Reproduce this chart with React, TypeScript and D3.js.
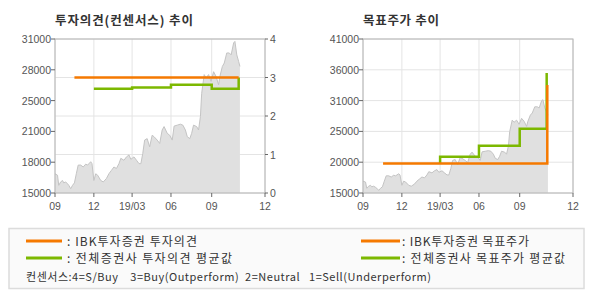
import React from 'react';
import * as d3 from 'd3';

// ---- data ----
// trading-day index of the x axis and its month labels
const xTickPos = [0, 62, 123, 185, 250, 335];
const xTickLabels = ['09', '12', '19/03', '06', '09', '12'];

// share price (trading-day index, value)
const priceDay = [0, 4, 6, 9, 12, 14, 17, 20, 22, 25, 28, 31, 34, 37, 41, 45, 49, 52, 57, 59, 62, 65, 68, 73, 77, 82, 86, 90, 94, 98, 102, 105, 110, 114, 118, 121, 126, 130, 134, 137, 140, 143, 147, 151, 155, 158, 163, 167, 171, 174, 179, 183, 187, 190, 195, 200, 204, 208, 211, 215, 218, 221, 226, 229, 232, 234, 238, 241, 245, 249, 253, 257, 261, 263, 267, 270, 274, 278, 281, 285, 287, 290, 293, 295];
const priceVal = [17000, 16850, 15800, 16150, 16300, 16050, 16150, 15950, 15800, 15450, 15800, 16050, 17000, 17900, 17900, 17700, 18000, 17900, 18250, 18050, 16300, 17000, 16850, 16300, 16150, 16500, 17000, 17350, 17700, 17550, 18050, 18600, 18400, 18750, 18950, 18500, 18750, 18400, 18050, 18050, 19100, 20500, 20650, 19800, 21000, 20850, 20500, 20150, 21550, 21900, 21200, 21000, 20500, 21950, 22050, 22150, 22050, 21550, 20850, 20650, 21200, 22050, 21900, 21550, 22950, 25350, 27300, 26950, 27300, 26600, 27600, 27100, 26250, 27100, 28150, 28500, 29550, 29550, 29350, 30600, 30750, 29350, 28650, 28150];

// investment opinion (0-4)
const ibkOpinionDay = [31, 293];
const ibkOpinionVal = [3, 3];
const avgOpinionDay = [62, 123, 185, 250, 293, 293];
const avgOpinionVal = [2.71, 2.74, 2.81, 2.71, 2.71, 3.0];

// target price
const ibkTargetDay = [32, 294, 294];
const ibkTargetVal = [20000, 20000, 33250];
const avgTargetDay = [123, 123, 185, 250, 293, 293];
const avgTargetVal = [20000, 21100, 22970, 25850, 25850, 35250];

// axis ticks
const leftPriceTicks = [15000, 18200, 21400, 24600, 27800, 31000];
const leftPriceLabels = ['15000', '18000', '21000', '25000', '28000', '31000'];
const opinionTicks = [0, 1, 2, 3, 4];
const rightPriceTicks = [15000, 20200, 25400, 30600, 35800, 41000];
const rightPriceLabels = ['15000', '20000', '25000', '31000', '36000', '41000'];

const ORANGE = '#f57900';
const GREEN = '#7cb800';
const AXIS_FONT = '"Liberation Sans", Arial, sans-serif';
const KR_FONT = '"Noto Sans CJK KR", "Noto Sans", sans-serif';

type Pt = [number, number];
const zip = (a: number[], b: number[]): Pt[] => a.map((d, i) => [d, b[i]] as Pt);

function Panel(props: {
  x0: number; x1: number; y0: number; y1: number;
  title: string; titleLen: number;
  priceDomain: [number, number];
  priceTicks: number[]; priceLabels: string[];
  rightAxis: boolean;
  gridTicks: 'right' | 'left';
  children: (x: d3.ScaleLinear<number, number>, yL: d3.ScaleLinear<number, number>, yR: d3.ScaleLinear<number, number>) => React.ReactNode;
}) {
  const { x0, x1, y0, y1 } = props;
  const x = d3.scaleLinear().domain([0, 335]).range([x0, x1]);
  const yL = d3.scaleLinear().domain(props.priceDomain).range([y1, y0]);
  const yR = d3.scaleLinear().domain([0, 4]).range([y1, y0]);
  const pts = zip(priceDay, priceVal);
  const area = d3.area<Pt>().x(d => x(d[0])).y0(y1).y1(d => yL(d[1]))(pts) || '';
  const line = d3.line<Pt>().x(d => x(d[0])).y(d => yL(d[1]))(pts) || '';
  const hGrid = props.gridTicks === 'right' ? opinionTicks.map(t => yR(t)) : props.priceTicks.map(t => yL(t));
  return (
    <g>
      <text x={x0} y={25} fontFamily={KR_FONT} fontWeight="bold" fontSize={12.5} fill="#333" textLength={props.titleLen} lengthAdjust="spacing">{props.title}</text>
      {hGrid.map((y, i) => <line key={'h' + i} x1={x0} x2={x1} y1={y} y2={y} stroke="#e4e4e4" strokeWidth={1} />)}
      {xTickPos.map((t, i) => <line key={'v' + i} x1={x(t)} x2={x(t)} y1={y0} y2={y1} stroke="#e4e4e4" strokeWidth={1} />)}
      <path d={area} fill="#e0e0e0" />
      <path d={line} fill="none" stroke="#c4c4c4" strokeWidth={1} />
      {props.children(x, yL, yR)}
      <rect x={x0} y={y0} width={x1 - x0} height={y1 - y0} fill="none" stroke="#b4b4b4" strokeWidth={1} />
      {props.priceTicks.map((t, i) => (
        <g key={'l' + i}>
          <line x1={x0 - 4} x2={x0} y1={yL(t)} y2={yL(t)} stroke="#666" />
          <text x={x0 - 4} y={yL(t) + 4} textAnchor="end" fontFamily={AXIS_FONT} fontSize={10.5} fill="#555">{props.priceLabels[i]}</text>
        </g>
      ))}
      {props.rightAxis && opinionTicks.map((t, i) => (
        <g key={'r' + i}>
          <line x1={x1} x2={x1 + 3} y1={yR(t)} y2={yR(t)} stroke="#666" />
          <text x={x1 + 5} y={yR(t) + 4} textAnchor="start" fontFamily={AXIS_FONT} fontSize={10.5} fill="#555">{String(t)}</text>
        </g>
      ))}
      {xTickPos.map((t, i) => (
        <g key={'x' + i}>
          <line x1={x(t)} x2={x(t)} y1={y1} y2={y1 + 4} stroke="#666" />
          <text x={x(t)} y={y1 + 17} textAnchor="middle" fontFamily={AXIS_FONT} fontSize={10.5} fill="#555">{xTickLabels[i]}</text>
        </g>
      ))}
    </g>
  );
}

export default function App() {
  const stepLine = (x: d3.ScaleLinear<number, number>, y: d3.ScaleLinear<number, number>, days: number[], vals: number[]) =>
    d3.line<Pt>().x(d => x(d[0])).y(d => y(d[1])).curve(d3.curveStepAfter)(zip(days, vals)) || '';
  return (
    <svg width={590} height={300} style={{ position: 'absolute', left: 0, top: 0, background: '#fff' }}>
      <Panel x0={55} x1={265} y0={39} y1={193} title="투자의견(컨센서스) 추이" titleLen={138}
        priceDomain={[15000, 31000]} priceTicks={leftPriceTicks} priceLabels={leftPriceLabels}
        rightAxis={true} gridTicks="right">
        {(x, _yL, yR) => (
          <g>
            <path d={stepLine(x, yR, avgOpinionDay, avgOpinionVal)} fill="none" stroke={GREEN} strokeWidth={2.5} />
            <path d={stepLine(x, yR, ibkOpinionDay, ibkOpinionVal)} fill="none" stroke={ORANGE} strokeWidth={2.5} />
          </g>
        )}
      </Panel>
      <Panel x0={363} x1={573} y0={39} y1={193} title="목표주가 추이" titleLen={76}
        priceDomain={[15000, 41000]} priceTicks={rightPriceTicks} priceLabels={rightPriceLabels}
        rightAxis={false} gridTicks="left">
        {(x, yL) => (
          <g>
            <path d={stepLine(x, yL, avgTargetDay, avgTargetVal)} fill="none" stroke={GREEN} strokeWidth={2.5} />
            <path d={stepLine(x, yL, ibkTargetDay, ibkTargetVal)} fill="none" stroke={ORANGE} strokeWidth={2.5} />
          </g>
        )}
      </Panel>
      {/* legend */}
      <rect x={9} y={228.5} width={575} height={60} fill="#fafafa" stroke="#dcdcdc" strokeWidth={1.5} />
      <line x1={26} x2={62} y1={241} y2={241} stroke={ORANGE} strokeWidth={3} />
      <text x={67} y={245.5} fontFamily={KR_FONT} fontSize={12} fill="#333" textLength={130} lengthAdjust="spacing">: IBK투자증권 투자의견</text>
      <line x1={26} x2={62} y1={258} y2={258} stroke={GREEN} strokeWidth={3} />
      <text x={67} y={262.5} fontFamily={KR_FONT} fontSize={12} fill="#333" textLength={165} lengthAdjust="spacing">: 전체증권사 투자의견 평균값</text>
      <line x1={361} x2={400} y1={241} y2={241} stroke={ORANGE} strokeWidth={3} />
      <text x={402} y={245.5} fontFamily={KR_FONT} fontSize={12} fill="#333" textLength={127} lengthAdjust="spacing">: IBK투자증권 목표주가</text>
      <line x1={361} x2={400} y1={258} y2={258} stroke={GREEN} strokeWidth={3} />
      <text x={402} y={262.5} fontFamily={KR_FONT} fontSize={12} fill="#333" textLength={163} lengthAdjust="spacing">: 전체증권사 목표주가 평균값</text>
      <text x={26} y={281} fontFamily={KR_FONT} fontSize={11} fill="#333" textLength={405} lengthAdjust="spacing" style={{ whiteSpace: 'pre' }}>{'컨센서스:4=S/Buy    3=Buy(Outperform)  2=Neutral   1=Sell(Underperform)'}</text>
    </svg>
  );
}
